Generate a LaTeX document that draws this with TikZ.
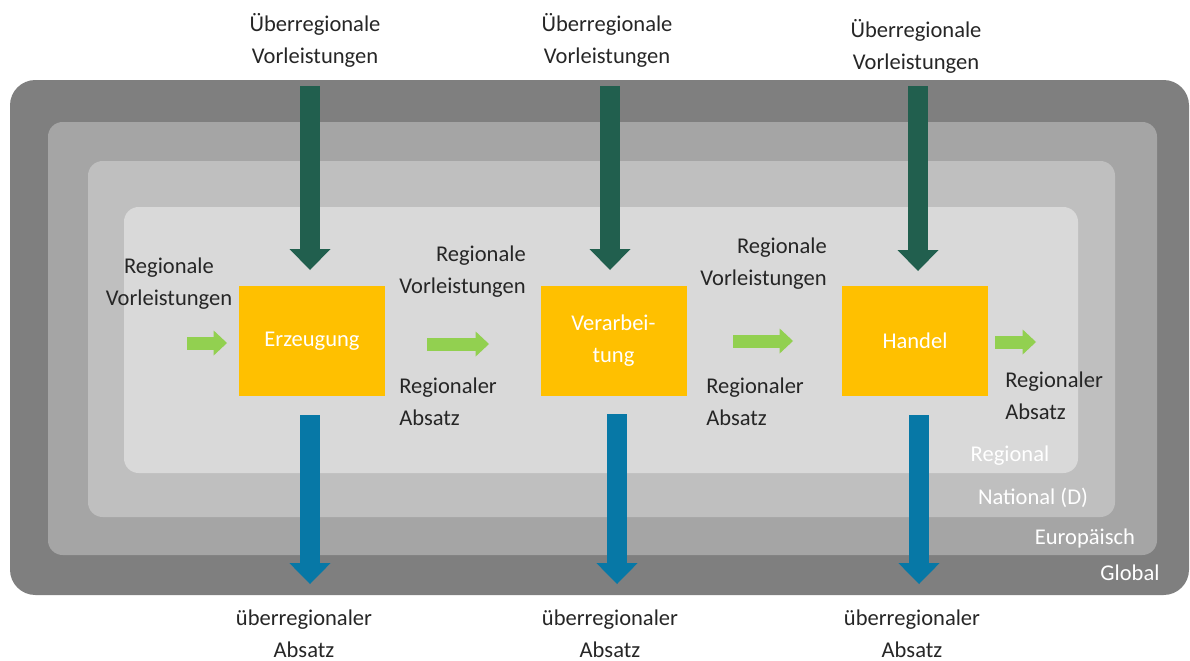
\documentclass[tikz,border=0pt]{standalone}
\usepackage{fontspec}
\setmainfont{Carlito}
\usetikzlibrary{arrows.meta,positioning}
\definecolor{gelb}{HTML}{FFC000}
\definecolor{dunkelgruen}{HTML}{215F4E}
\definecolor{blau}{HTML}{0778A6}
\definecolor{hellgruen}{HTML}{92D050}
\definecolor{schrift}{HTML}{262626}
\definecolor{global}{HTML}{7F7F7F}
\definecolor{europa}{HTML}{A5A5A5}
\definecolor{national}{HTML}{BFBFBF}
\definecolor{regional}{HTML}{D9D9D9}
\tikzset{
  ebene/.style={rounded corners=11pt},
  kasten/.style={fill=gelb,text=white,minimum width=109.5pt,minimum height=82.5pt,inner sep=0pt,align=center},
  beschr/.style={text=schrift,align=center,inner sep=0pt},
  ebtxt/.style={text=white,inner sep=0pt},
  pfeilein/.style={dunkelgruen,line width=15pt,-{Triangle[length=15.75pt,width=30.75pt,line width=0pt]}},
  pfeilaus/.style={blau,line width=15pt,-{Triangle[length=15.75pt,width=31pt,line width=0pt]}},
  pfeilreg/.style={hellgruen,line width=9.75pt,-{Triangle[length=10pt,width=18.75pt,line width=0pt]}},
}

\begin{document}
\begin{tikzpicture}[x=0.75pt,y=-0.75pt,font=\fontsize{16.9}{24}\selectfont]
  \useasboundingbox (0,0) rectangle (1190,661);
  \fill[global,rounded corners=19pt] (10,80) rectangle (1189,595);
  \fill[europa,ebene] (48,122) rectangle (1157,555);
  \fill[national,ebene] (88,161) rectangle (1115,517);
  \fill[regional,ebene] (124,207) rectangle (1078,473);
  \node[ebtxt] (lreg) at (1010,456) {Regional};
  \node[ebtxt] (lnat) at (1033,498) {National (D)};
  \node[ebtxt] (leur) at (1085,538) {Europäisch};
  \node[ebtxt] (lglo) at (1130,573) {Global};

  \node[kasten] (erz) at (312,341) {Erzeugung};
  \node[kasten] (verarb) at (613.5,341) {Verarbei-\\tung};
  \node[kasten] (handel) at (915,341) {Handel};

  \coordinate (ein1) at (310,86);  \coordinate (ein1s) at (310,270);
  \coordinate (ein2) at (610,86);  \coordinate (ein2s) at (610,270);
  \coordinate (ein3) at (918,86);  \coordinate (ein3s) at (918,271);
  \draw[pfeilein] (ein1) -- (ein1s);
  \draw[pfeilein] (ein2) -- (ein2s);
  \draw[pfeilein] (ein3) -- (ein3s);

  \coordinate (aus1) at (310,415); \coordinate (aus1s) at (310,584);
  \coordinate (aus2) at (617,414); \coordinate (aus2s) at (617,584);
  \coordinate (aus3) at (919,415); \coordinate (aus3s) at (919,584);
  \draw[pfeilaus] (aus1) -- (aus1s);
  \draw[pfeilaus] (aus2) -- (aus2s);
  \draw[pfeilaus] (aus3) -- (aus3s);

  \coordinate (reg0) at (187,343); \coordinate (reg0s) at (227,343);
  \coordinate (reg1) at (427,344); \coordinate (reg1s) at (489,344);
  \coordinate (reg2) at (733,341); \coordinate (reg2s) at (793,341);
  \coordinate (reg3) at (995,342); \coordinate (reg3s) at (1036,342);
  \draw[pfeilreg] (reg0) -- (reg0s);
  \draw[pfeilreg] (reg1) -- (reg1s);
  \draw[pfeilreg] (reg2) -- (reg2s);
  \draw[pfeilreg] (reg3) -- (reg3s);

  \node[beschr] (ueb1) at (315,40) {Überregionale\\Vorleistungen};
  \node[beschr] (ueb2) at (607,40) {Überregionale\\Vorleistungen};
  \node[beschr] (ueb3) at (916,46) {Überregionale\\Vorleistungen};
  \node[beschr] (abs1) at (304,634) {überregionaler\\Absatz};
  \node[beschr] (abs2) at (610,634) {überregionaler\\Absatz};
  \node[beschr] (abs3) at (912,634) {überregionaler\\Absatz};
  \node[beschr] (rv1) at (169,284) {Regionale\\Vorleistungen};
  \node[beschr,align=right,anchor=east] (rv2) at (526,272) {Regionale\\Vorleistungen};
  \node[beschr,align=right,anchor=east] (rv3) at (827,264) {Regionale\\Vorleistungen};
  \node[beschr,align=left,anchor=west] (ra1) at (399,402) {Regionaler\\Absatz};
  \node[beschr,align=left,anchor=west] (ra2) at (706,402) {Regionaler\\Absatz};
  \node[beschr,align=left,anchor=west] (ra3) at (1005,396) {Regionaler\\Absatz};
\end{tikzpicture}
\end{document}
